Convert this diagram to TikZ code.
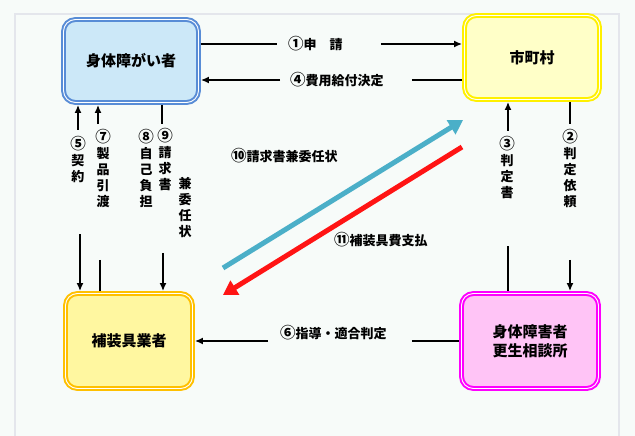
\documentclass[tikz,border=0pt]{standalone}
\usepackage{fontspec}
\setmainfont{Noto Sans CJK JP}
\usetikzlibrary{arrows.meta}

\definecolor{bgfill}{RGB}{247,251,249}
\definecolor{framegrey}{RGB}{228,230,236}
\definecolor{personline}{RGB}{88,140,214}
\definecolor{personfill}{RGB}{204,232,248}
\definecolor{cityline}{RGB}{255,240,0}
\definecolor{cityfill}{RGB}{255,255,200}
\definecolor{vendorline}{RGB}{255,192,0}
\definecolor{vendorfill}{RGB}{255,247,160}
\definecolor{centerline}{RGB}{255,0,255}
\definecolor{centerfill}{RGB}{255,196,246}
\definecolor{claimblue}{RGB}{75,175,200}
\definecolor{payred}{RGB}{255,20,20}

\newcommand{\cnum}[1]{{\fontsize{15.5}{16}\selectfont #1}}

\begin{document}
\begin{tikzpicture}[
  x=1pt, y=-1pt,
  box/.style n args={2}{
    draw=#1, fill=#2, line width=2pt,
    double=white, double distance=0.9pt,
    rounded corners=12pt, outer sep=2.4pt,
    font=\fontsize{15}{19}\selectfont\bfseries, align=center
  },
  hlabel/.style={inner sep=0pt, anchor=west,
    font=\fontsize{13}{16}\selectfont\bfseries},
  vlabel/.style={inner sep=0pt, align=center,
    font=\fontsize{13}{16}\selectfont\bfseries},
  link/.style={-, line width=2pt, black},
  arr/.style={-{Latex[length=8pt,width=7pt]}, line width=2pt, black},
  fatarr/.style={-{Triangle[length=14pt,width=16pt]}, line width=5pt, color=#1},
]
  \useasboundingbox (0,0) rectangle (635,436);
  \fill[bgfill] (0,0) rectangle (635,436);
  \draw[framegrey, line width=2pt] (15,440) -- (15,14) -- (619,14) -- (619,440);

  \node[box={personline}{personfill}, minimum width=135pt, minimum height=83pt]
    (person) at (131,61) {身体障がい者};
  \node[box={cityline}{cityfill}, minimum width=135pt, minimum height=84pt]
    (city) at (532,57.5) {市町村};
  \node[box={vendorline}{vendorfill}, minimum width=127pt, minimum height=95pt]
    (vendor) at (129,341) {補装具業者};
  \node[box={centerline}{centerfill}, minimum width=137pt, minimum height=95pt]
    (center) at (530,341) {身体障害者\\更生相談所};

  \node[hlabel] (l1) at (288,44) {\cnum{①}申　請};
  \node[hlabel] (l4) at (290,80) {\cnum{④}費用給付決定};
  \node[hlabel] (l6) at (280,333) {\cnum{⑥}指導・適合判定};
  \node[hlabel] (l10) at (231,156) {\cnum{⑩}請求書兼委任状};
  \node[hlabel] (l11) at (334,240) {\cnum{⑪}補装具費支払};

  \foreach \n/\px/\py/\t in {
    v5/78/159/{\cnum{⑤}\\契\\約},
    v7/103/168.5/{\cnum{⑦}\\製\\品\\引\\渡},
    v8/146/168/{\cnum{⑧}\\自\\己\\負\\担},
    v9/165/159.5/{\cnum{⑨}\\請\\求\\書},
    vk/185/208/{兼\\委\\任\\状},
    v3/507/168/{\cnum{③}\\判\\定\\書},
    v2/570/168.5/{\cnum{②}\\判\\定\\依\\頼}}
    \node[vlabel] (\n) at (\px,\py) {\t};

  \draw[link] (person.east |- l1) -- ([xshift=-11pt]l1.west);
  \draw[arr] ([xshift=38pt]l1.east) -- (city.west |- l1);
  \draw[arr] ([xshift=-10pt]l4.west) -- (person.east |- l4);
  \draw[link] ([xshift=28pt]l4.east) -- (city.west |- l4);

  \draw[arr] ([xshift=-12pt]l6.west |- vendor.east) -- (vendor.east);
  \draw[link] ([xshift=25pt]l6.east |- center.west) -- (center.west);

  \draw[arr] ([yshift=6pt]v5.north) -- (v5.north |- person.south);
  \draw[arr] ([xshift=2pt,yshift=-52pt]v5.south) -- ([xshift=2pt]v5.south |- vendor.north);
  \draw[arr] ([xshift=-5pt,yshift=5pt]v7.north) -- ([xshift=-5pt]v7.north |- person.south);
  \draw[link] ([xshift=-3pt,yshift=-52pt]v7.south) -- ([xshift=-3pt]v7.south |- vendor.north);
  \draw[link] ([xshift=-3pt]v9.north |- person.south) -- ([xshift=-3pt,yshift=4pt]v9.north);
  \draw[arr] ([xshift=-2pt,yshift=-62pt]v9.south) -- ([xshift=-2pt]v9.south |- vendor.north);
  \draw[arr] ([xshift=1pt,yshift=6pt]v3.north) -- ([xshift=1pt]v3.north |- city.south);
  \draw[link] ([xshift=1pt,yshift=-47pt]v3.south) -- ([xshift=1pt]v3.south |- center.north);
  \draw[link] (v2.north |- city.south) -- ([yshift=5pt]v2.north);
  \draw[arr] ([yshift=-52pt]v2.south) -- (v2.south |- center.north);

  \coordinate (bfrom) at (223,268);
  \coordinate (bto) at (463,120);
  \coordinate (rfrom) at (462,147);
  \coordinate (rto) at (223,295);
  \draw[fatarr=claimblue] (bfrom) -- (bto);
  \draw[fatarr=payred] (rfrom) -- (rto);
\end{tikzpicture}
\end{document}
